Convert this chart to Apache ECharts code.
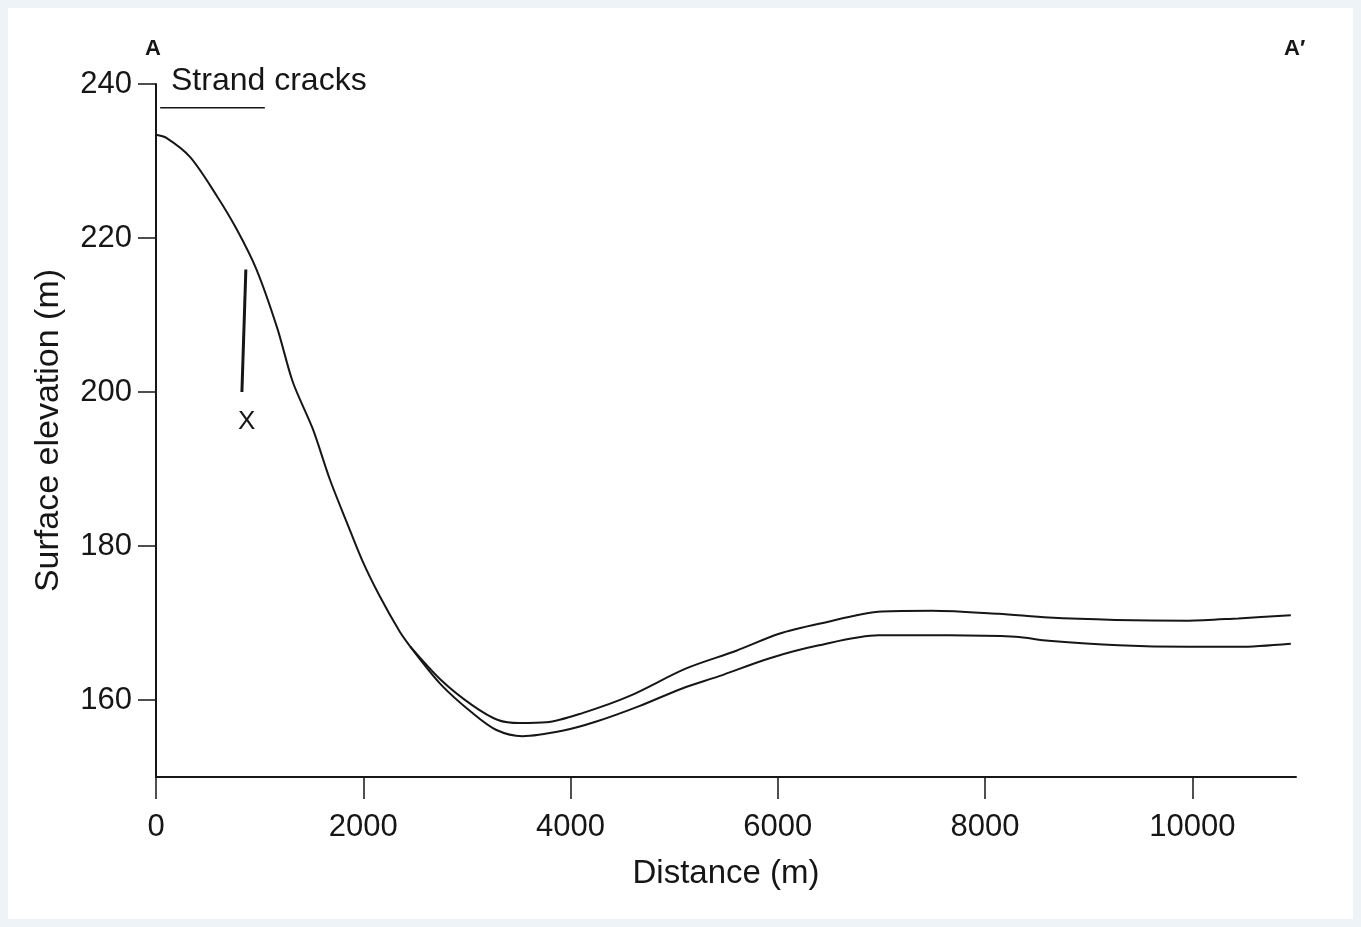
<!DOCTYPE html>
<html>
<head>
<meta charset="utf-8">
<title>Surface elevation profile A-A'</title>
<script src="https://cdn.jsdelivr.net/npm/echarts@6/dist/echarts.min.js"></script>
<style>
    html, body { margin: 0; padding: 0; background: #eef3f8; }
    #chart { position: absolute; left: 8px; top: 8px; width: 1345px; height: 911px; background: #fff; }
</style>
</head>
<body>
<div id="chart"></div>
<script>
// profile where both surfaces coincide (m, m)
const sharedDist = [0, 100, 330, 590, 780, 970, 1170, 1320, 1513, 1676, 1840, 1994, 2158, 2351, 2450];
const sharedElev = [233.4, 233.0, 230.5, 225.4, 221.1, 215.9, 208.3, 201.3, 195.2, 188.7, 183.1, 178.0, 173.5, 168.9, 167.0];

// upper surface after the split
const upperDist = [2450, 2750, 3054, 3300, 3507, 3767, 4114, 4566, 5116, 5600, 6012, 6397, 7004, 7486, 8131, 8613, 9258, 9961, 10443, 10950];
const upperElev = [167.0, 162.6, 159.3, 157.4, 157.0, 157.1, 158.3, 160.5, 164.1, 166.4, 168.6, 169.9, 171.5, 171.6, 171.2, 170.7, 170.4, 170.3, 170.6, 171.0];

// lower surface after the split
const lowerDist = [2450, 2750, 3054, 3285, 3536, 3921, 4249, 4663, 5077, 5434, 5915, 6397, 6975, 7649, 8295, 8613, 9287, 9961, 10443, 10950];
const lowerElev = [167.0, 162.0, 158.3, 156.1, 155.3, 156.0, 157.2, 159.2, 161.5, 163.1, 165.4, 167.1, 168.4, 168.4, 168.2, 167.7, 167.1, 166.9, 166.9, 167.3];

// "Strand cracks" extent and point X marker
const crackDist = [40, 1050];
const crackElev = [236.9, 236.9];
const markDist = [867, 829];
const markElev = [215.9, 200.0];

const xTicks = [0, 2000, 4000, 6000, 8000, 10000];
const yTicks = [160, 180, 200, 220, 240];

function zip(xs, ys) {
    return xs.map(function (x, i) { return [x, ys[i]]; });
}

const ink = '#161616';
const font = 'Liberation Sans';

const lineStyle = { color: ink, width: 2 };

let chart = echarts.init(document.getElementById('chart'));

let option = {
    animation: false,
    grid: { left: 148, right: 57, top: 76, bottom: 142 },
    textStyle: { fontFamily: font },
    xAxis: {
        type: 'value',
        min: 0,
        max: 11000,
        name: 'Distance (m)',
        nameLocation: 'middle',
        nameGap: 80,
        nameTextStyle: { fontSize: 33, color: ink, fontFamily: font },
        axisLine: { lineStyle: { color: ink, width: 2 } },
        axisTick: { length: 22, customValues: xTicks, lineStyle: { color: ink, width: 1.5 } },
        axisLabel: {
            customValues: xTicks, margin: 35, fontSize: 31, color: ink, fontFamily: font,
            formatter: function (v) { return String(v); }
        },
        splitLine: { show: false }
    },
    yAxis: {
        type: 'value',
        min: 150,
        max: 240,
        name: 'Surface elevation (m)',
        nameLocation: 'middle',
        nameGap: 90,
        nameTextStyle: { fontSize: 34, color: ink, fontFamily: font },
        axisLine: { onZero: false, lineStyle: { color: ink, width: 2 } },
        axisTick: { length: 18, customValues: yTicks, lineStyle: { color: ink, width: 1.5 } },
        axisLabel: { customValues: yTicks, margin: 24, fontSize: 31, color: ink, fontFamily: font },
        splitLine: { show: false }
    },
    series: [
        {
            type: 'line',
            data: zip(sharedDist, sharedElev),
            smooth: 0.3,
            showSymbol: false,
            lineStyle: lineStyle
        },
        {
            type: 'line',
            data: zip(upperDist, upperElev),
            smooth: 0.3,
            showSymbol: false,
            lineStyle: lineStyle
        },
        {
            type: 'line',
            data: zip(lowerDist, lowerElev),
            smooth: 0.3,
            showSymbol: false,
            lineStyle: lineStyle
        },
        {
            type: 'line',
            data: zip(crackDist, crackElev),
            showSymbol: false,
            lineStyle: { color: ink, width: 1.5 }
        },
        {
            type: 'line',
            data: zip(markDist, markElev),
            symbol: 'none',
            lineStyle: { color: ink, width: 3 },
            endLabel: {
                show: true,
                formatter: 'X',
                fontSize: 26,
                color: ink,
                fontFamily: font,
                offset: [-12, 30]
            }
        }
    ],
    graphic: [
        {
            type: 'text', left: 137, top: 30,
            style: { text: 'A', fontSize: 22, fontWeight: 'bold', fill: ink, fontFamily: font }
        },
        {
            type: 'text', left: 1276, top: 30,
            style: { text: 'A\u2032', fontSize: 22, fontWeight: 'bold', fill: ink, fontFamily: font }
        },
        {
            type: 'text', left: 163, top: 57,
            style: { text: 'Strand cracks', fontSize: 32, fill: ink, fontFamily: font }
        }
    ]
};

chart.setOption(option);
</script>
</body>
</html>
